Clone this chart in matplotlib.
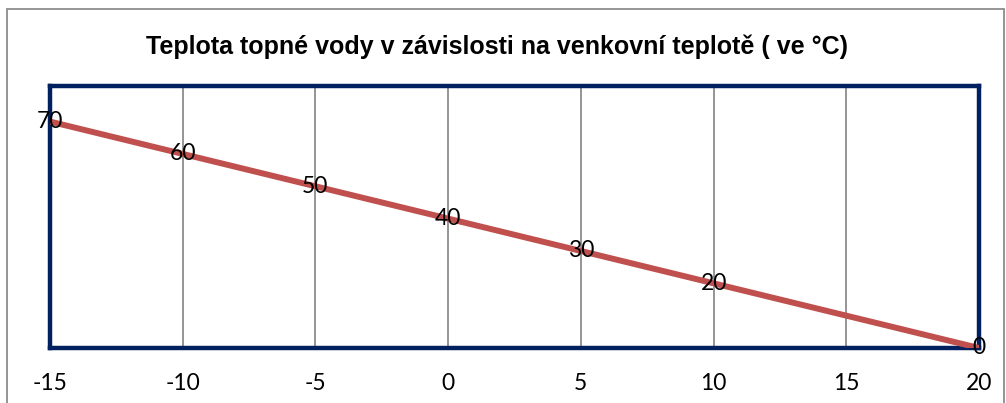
import matplotlib
matplotlib.use("Agg")
import matplotlib.pyplot as plt
from matplotlib.patches import Rectangle

outdoor_temp = [-15, -10, -5, 0, 5, 10, 15, 20]
water_temp = [70, 60, 50, 40, 30, 20, 10, 0]
label_texts = ["70", "60", "50", "40", "30", "20", "", "0"]
x_ticks = [-15, -10, -5, 0, 5, 10, 15, 20]
title = "Teplota topné vody v závislosti na venkovní teplotě ( ve °C)"

W, H = 1006, 403
fig = plt.figure(figsize=(W / 100, H / 100), dpi=100)

# outer chart frame
fig.patches.append(Rectangle((7 / W, -0.05), (1004 - 7) / W, 1.05 - 9 / H,
                             transform=fig.transFigure, fill=False,
                             edgecolor="#8c8c8c", linewidth=1.3))

left, right, top, bottom = 50, 979, 86, 348
ax = fig.add_axes([left / W, (H - bottom) / H, (right - left) / W, (bottom - top) / H])

ax.plot(outdoor_temp, water_temp, color="#C0504D", linewidth=4.3, solid_capstyle="butt", zorder=3)
for x, y, t in zip(outdoor_temp, water_temp, label_texts):
    if t:
        ax.text(x, y, t, ha="center", va="center", fontsize=16.5, family="Lato",
                color="black", zorder=4, clip_on=False)

ax.set_xlim(-15, 20)
ax.set_ylim(0, 81)
ax.set_xticks(x_ticks)
ax.set_xticklabels([str(v) for v in x_ticks], fontsize=16.5, family="Lato")
ax.tick_params(axis="x", length=0, pad=18)
ax.set_yticks([])
ax.grid(axis="x", color="#8c8c8c", linewidth=1.3)
ax.set_axisbelow(True)
for s in ax.spines.values():
    s.set_color("#002060")
    s.set_linewidth(3.2)

fig.text(497 / W, 1 - 47 / H, title, ha="center", va="center", fontsize=18,
         fontweight="bold", family="Liberation Sans")

fig.savefig("out.png", dpi=100)
